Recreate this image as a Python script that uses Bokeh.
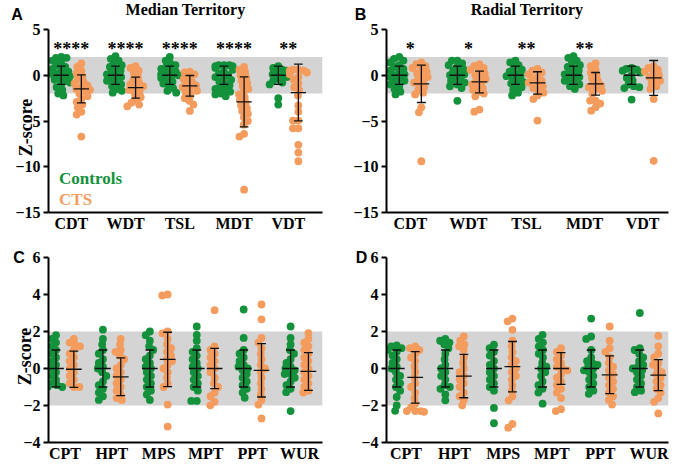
import math
from bokeh.plotting import figure
from bokeh.models import FixedTicker, BoxAnnotation, Label, Range1d
from bokeh.layouts import gridplot
from bokeh.embed import file_html
from bokeh.resources import INLINE
from bokeh.core.properties import value

# ---------------- data ----------------
median_cats = ["CDT", "WDT", "TSL", "MDT", "VDT"]
median_stars = ["****", "****", "****", "****", "**"]
median_controls = [
    [2.0, 1.9, 1.9, 1.6, 1.3, 1.1, 0.9, 0.7, 0.5, 0.4, 0.2, 0.1, 0.0, -0.1, -0.3, -0.5, -0.6, -0.8, -1.0, -1.3, -1.6, -2.0, -2.2],
    [2.1, 1.8, 1.6, 1.3, 1.1, 0.9, 0.7, 0.5, 0.3, 0.1, 0.0, -0.2, -0.4, -0.6, -0.8, -1.0, -1.2, -1.5, -1.7, -1.9],
    [2.0, 1.6, 1.3, 1.1, 0.9, 0.7, 0.5, 0.4, 0.2, 0.1, 0.0, -0.1, -0.3, -0.5, -0.7, -0.9, -1.1, -1.4, -1.7, -1.9],
    [1.1, 1.1, 1.1, 1.0, 1.0, 0.8, 0.6, 0.4, 0.2, 0.0, -0.2, -0.3, -0.5, -0.7, -0.9, -1.1, -1.3, -1.5, -1.6, -1.8, -2.0, -2.1, -2.3],
    [1.0, 0.8, 0.6, 0.5, 0.3, 0.1, 0.0, -0.2, -0.4, -0.6, -0.8, -1.0, -2.5, -3.2],
]
median_cts = [
    [1.3, 0.9, 0.5, 0.2, -0.1, -0.4, -0.7, -0.9, -1.1, -1.3, -1.5, -1.6, -1.8, -2.0, -2.3, -2.6, -2.9, -3.2, -3.5, -4.0, -4.3, -6.7],
    [1.0, 0.8, 0.5, 0.2, -0.2, -0.5, -0.8, -1.0, -1.2, -1.4, -1.6, -1.8, -2.1, -2.4, -2.7, -3.0, -3.2, -3.4],
    [0.4, 0.3, 0.1, -0.2, -0.4, -0.7, -0.9, -1.1, -1.3, -1.5, -1.7, -1.9, -2.2, -2.5, -2.8, -3.2, -3.9],
    [0.9, 0.6, 0.3, 0.0, -0.3, -0.6, -0.9, -1.2, -1.5, -1.8, -2.1, -2.4, -2.7, -3.0, -3.3, -3.6, -3.9, -4.2, -4.6, -5.0, -5.4, -6.4, -6.7, -12.5],
    [0.6, 0.6, 0.5, 0.5, 0.3, 0.1, -0.2, -0.5, -0.9, -1.3, -1.6, -2.2, -3.3, -4.0, -4.95, -4.95, -5.8, -5.8, -7.6, -8.45, -9.4],
]
median_ctrl_mean = [0.0, 0.0, 0.0, 0.0, 0.0]
median_ctrl_sd = [1.0, 1.0, 1.0, 1.0, 1.0]
median_cts_mean = [-1.49, -1.35, -1.16, -2.91, -1.89]
median_cts_sd = [1.53, 1.14, 1.13, 2.73, 3.1]

radial_cats = ["CDT", "WDT", "TSL", "MDT", "VDT"]
radial_stars = ["*", "*", "**", "**", ""]
radial_controls = [
    [2.0, 1.8, 1.6, 1.4, 1.1, 0.9, 0.7, 0.5, 0.3, 0.1, 0.0, -0.2, -0.4, -0.6, -0.8, -1.0, -1.2, -1.5, -1.8, -2.1],
    [1.6, 1.6, 1.3, 1.1, 0.9, 0.7, 0.5, 0.3, 0.1, 0.0, -0.2, -0.4, -0.6, -0.8, -1.0, -1.2, -1.4, -2.8],
    [1.6, 1.4, 1.1, 0.8, 0.6, 0.4, 0.2, 0.0, -0.1, -0.3, -0.5, -0.7, -0.9, -1.1, -1.3, -1.6, -1.9, -2.2],
    [2.1, 1.9, 1.6, 1.3, 1.1, 0.9, 0.7, 0.5, 0.3, 0.1, 0.0, -0.2, -0.4, -0.6, -0.8, -1.0, -1.2, -1.5],
    [0.8, 0.7, 0.6, 0.5, 0.3, 0.0, -0.3, -0.6, -1.0, -1.2, -1.3, -1.4, -2.66],
]
radial_cts = [
    [1.4, 1.2, 1.0, 0.8, 0.6, 0.4, 0.2, 0.0, -0.2, -0.4, -0.6, -0.8, -1.0, -1.3, -1.6, -1.9, -2.1, -3.5, -4.05, -9.4],
    [1.2, 1.0, 0.8, 0.6, 0.4, 0.2, 0.0, -0.2, -0.4, -0.6, -0.8, -1.0, -1.2, -1.4, -1.6, -1.8, -2.0, -2.3, -3.75, -3.98],
    [0.7, 0.5, 0.3, 0.1, -0.2, -0.4, -0.6, -0.8, -1.0, -1.2, -1.4, -1.6, -1.9, -2.2, -2.6, -4.95],
    [1.3, 1.0, 0.6, 0.3, 0.0, -0.3, -0.6, -0.9, -1.1, -1.3, -1.5, -1.7, -2.0, -2.77, -2.77, -3.1, -3.5, -3.87],
    [1.0, 0.8, 0.6, 0.4, 0.2, 0.0, -0.2, -0.4, -0.6, -0.9, -1.2, -1.5, -2.6, -9.35],
]
radial_ctrl_mean = [0.0, 0.0, 0.0, 0.0, 0.0]
radial_ctrl_sd = [1.0, 1.0, 1.0, 1.0, 1.0]
radial_cts_mean = [-0.94, -0.73, -0.84, -0.94, -0.29]
radial_cts_sd = [2.04, 1.19, 1.22, 1.24, 1.9]

median2_cats = ["CPT", "HPT", "MPS", "MPT", "PPT", "WUR"]
median2_controls = [
    [1.8, 1.6, 1.4, 1.2, 1.0, 0.8, 0.6, 0.4, 0.2, 0.0, -0.2, -0.4, -0.6, -0.8, -0.9, -1.0, -1.0],
    [2.1, 1.6, 1.3, 1.0, 0.8, 0.5, 0.3, 0.1, 0.0, -0.2, -0.4, -0.7, -0.9, -1.1, -1.3, -1.5, -1.7],
    [2.0, 1.8, 1.5, 1.2, 1.0, 0.7, 0.5, 0.3, 0.1, 0.0, -0.2, -0.4, -0.6, -0.8, -1.0, -1.2, -1.4, -1.7],
    [2.27, 1.82, 1.5, 1.1, 0.9, 0.7, 0.5, 0.3, 0.1, 0.0, -0.2, -0.4, -0.6, -0.8, -1.0, -1.2, -1.75, -1.75],
    [3.19, 1.65, 1.0, 0.8, 0.6, 0.4, 0.2, 0.1, 0.0, -0.1, -0.3, -0.5, -0.7, -0.9, -1.1, -1.3, -1.58],
    [2.27, 1.65, 1.3, 1.0, 0.8, 0.5, 0.3, 0.1, 0.0, -0.1, -0.3, -0.3, -0.5, -0.7, -0.9, -1.1, -1.28, -2.3],
]
median2_cts = [
    [1.6, 1.4, 1.3, 1.2, 1.0, 0.8, 0.6, 0.4, 0.2, 0.0, -0.2, -0.4, -0.6, -0.8, -1.0, -1.0],
    [1.6, 1.3, 1.0, 0.9, 0.7, 0.5, 0.2, 0.0, -0.2, -0.4, -0.6, -0.8, -1.0, -1.2, -1.4, -1.6, -1.7],
    [4.0, 3.95, 2.0, 1.9, 1.6, 1.3, 1.1, 0.9, 0.7, 0.5, 0.4, 0.2, 0.0, -0.2, -0.5, -0.8, -1.0, -1.95, -3.14],
    [3.15, 1.2, 1.0, 0.8, 0.6, 0.4, 0.2, 0.0, -0.2, -0.5, -0.8, -1.0, -1.3, -1.5, -1.8, -1.99],
    [3.46, 2.66, 1.65, 1.4, 1.1, 0.8, 0.5, 0.2, 0.0, -0.2, -0.5, -0.8, -1.1, -1.4, -1.7, -1.95, -2.7],
    [1.91, 1.6, 1.4, 1.2, 1.0, 0.8, 0.6, 0.4, 0.2, 0.0, -0.2, -0.4, -0.6, -0.8, -1.0, -1.2, -1.3],
]
median2_ctrl_mean = [0.0, 0.0, 0.0, 0.0, 0.0, 0.0]
median2_ctrl_sd = [1.0, 1.0, 1.0, 1.0, 1.0, 1.0]
median2_cts_mean = [-0.04, -0.45, 0.49, 0.0, -0.1, -0.16]
median2_cts_sd = [0.98, 1.02, 1.47, 1.09, 1.44, 1.02]

radial2_cats = ["CPT", "HPT", "MPS", "MPT", "PPT", "WUR"]
radial2_controls = [
    [1.25, 1.2, 1.1, 1.0, 0.9, 0.7, 0.5, 0.3, 0.1, 0.0, -0.2, -0.4, -0.6, -0.8, -1.0, -1.2, -1.54, -2.0, -2.29],
    [1.6, 1.5, 1.4, 1.3, 1.1, 0.8, 0.5, 0.2, 0.0, -0.2, -0.4, -0.6, -0.9, -1.0, -1.1, -1.4, -1.72],
    [1.29, 1.1, 0.9, 0.7, 0.4, 0.2, 0.0, -0.2, -0.4, -0.6, -0.8, -1.0, -1.2, -2.13, -2.96],
    [1.82, 1.6, 1.4, 1.2, 1.0, 0.8, 0.6, 0.3, 0.1, 0.0, -0.2, -0.4, -0.7, -0.9, -1.1, -1.3, -1.9],
    [2.7, 1.73, 1.6, 1.0, 0.6, 0.4, 0.3, 0.2, 0.1, 0.0, -0.1, -0.2, -0.4, -0.6, -0.8, -1.0, -1.2, -1.37],
    [3.0, 1.1, 1.0, 0.8, 0.6, 0.4, 0.2, 0.1, 0.0, -0.1, -0.2, -0.4, -0.6, -0.8, -1.0, -1.2, -1.28],
]
radial2_cts = [
    [1.2, 1.1, 1.0, 0.8, 0.6, 0.4, 0.1, -0.2, -0.5, -0.8, -1.0, -1.3, -1.6, -1.9, -2.1, -2.3, -2.3, -2.3, -2.34],
    [1.73, 1.5, 1.3, 1.2, 1.0, 0.6, 0.3, 0.0, -0.2, -0.4, -0.6, -0.8, -1.0, -1.3, -1.5, -1.7, -1.99],
    [2.7, 2.55, 2.09, 1.5, 1.2, 0.9, 0.6, 0.4, 0.2, 0.0, -0.2, -0.4, -0.6, -0.9, -1.2, -1.5, -1.72, -3.0, -3.2],
    [1.1, 0.9, 0.7, 0.5, 0.3, 0.1, 0.0, -0.1, -0.3, -0.5, -0.7, -0.9, -1.1, -1.3, -1.6, -2.2, -2.3],
    [2.27, 1.5, 1.1, 0.9, 0.6, 0.3, 0.1, -0.1, -0.3, -0.5, -0.7, -0.9, -1.1, -1.3, -1.5, -1.7, -1.95],
    [1.76, 1.2, 0.8, 0.6, 0.3, 0.2, 0.0, -0.2, -0.3, -0.5, -0.7, -0.9, -1.1, -1.3, -1.6, -1.8, -2.43],
]
radial2_ctrl_mean = [0.0, 0.0, 0.0, 0.0, 0.0, 0.0]
radial2_ctrl_sd = [1.0, 1.0, 1.0, 1.0, 1.0, 1.0]
radial2_cts_mean = [-0.48, -0.41, 0.1, 0.0, -0.34, -0.36]
radial2_cts_sd = [1.39, 1.17, 1.36, 0.86, 1.02, 0.84]

ticks_top = [5, 0, -5, -10, -15]
ticks_bottom = [6, 4, 2, 0, -2, -4]

# ---------------- styling ----------------
GREEN = "#13913b"
ORANGE = "#f39c5e"
BAND = "#d4d4d4"
SERIF = "Liberation Serif"
SANS = "Liberation Sans"
DOT = 7.8


def swarm(vals, ypx, dmin, maxoff):
    placed = []
    out = [0.0] * len(vals)
    order = sorted(range(len(vals)), key=lambda i: -vals[i])
    for i in order:
        y = vals[i] * ypx
        cands = [0.0]
        for (px, py) in placed:
            dy = abs(py - y)
            if dy < dmin:
                dx = math.sqrt(dmin * dmin - dy * dy)
                cands += [px - dx, px + dx]
        cands.sort(key=lambda c: (abs(c), c))
        chosen = cands[-1]
        for c in cands:
            if all((c - px) ** 2 + (y - py) ** 2 >= dmin * dmin - 1e-6 for px, py in placed):
                chosen = c
                break
        chosen = max(-maxoff, min(maxoff, chosen))
        placed.append((chosen, y))
        out[i] = chosen
    return out


def make_panel(cats, ctrl, cts, cm, cs, tm, ts, stars, yr, yticks, xr, width, height,
               borders, off, texts, legend=False, star_y=None):
    left, right, top, bottom = borders
    p = figure(width=width, height=height, x_range=Range1d(*xr), y_range=Range1d(*yr),
               output_backend="svg", toolbar_location=None,
               min_border_left=left, min_border_right=right,
               min_border_top=top, min_border_bottom=bottom)
    fw = width - left - right
    fh = height - top - bottom
    xppu = fw / (xr[1] - xr[0])
    yppu = fh / (yr[1] - yr[0])

    p.add_layout(BoxAnnotation(bottom=-2, top=2, fill_color=BAND, fill_alpha=1.0,
                               line_color=None, level="underlay"))

    for groups, color, sign in ((ctrl, GREEN, -1), (cts, ORANGE, 1)):
        xs, ys = [], []
        for i, vals in enumerate(groups):
            offs = swarm(vals, yppu, 5.6, 9.0)
            for v, o in zip(vals, offs):
                xs.append(i + sign * off + o / xppu)
                ys.append(v)
        p.scatter(x=xs, y=ys, size=DOT, fill_color=color, line_color=None, marker="circle")

    x0, y0, x1, y1 = [], [], [], []
    for means, sds, sign in ((cm, cs, -1), (tm, ts, 1)):
        for i, (m, s) in enumerate(zip(means, sds)):
            cx = i + sign * off
            x0.append(cx); y0.append(m - s); x1.append(cx); y1.append(m + s)
            hw = 4.5 / xppu
            for yy in (m - s, m + s):
                x0.append(cx - hw); x1.append(cx + hw); y0.append(yy); y1.append(yy)
            hm = 8.0 / xppu
            x0.append(cx - hm); x1.append(cx + hm); y0.append(m); y1.append(m)
    p.segment(x0=x0, y0=y0, x1=x1, y1=y1, line_color="#111111", line_width=1.3)

    if stars is not None:
        p.text(x=list(range(len(cats))), y=[star_y] * len(cats), text=stars,
               text_font=value(SERIF), text_font_style="bold", text_font_size="18px",
               text_align="center", text_baseline="middle", text_color="black")

    # axes
    p.xgrid.visible = False
    p.ygrid.visible = False
    p.outline_line_color = None
    xa = p.xaxis[0]
    xa.ticker = FixedTicker(ticks=list(range(len(cats))))
    xa.major_label_overrides = {i: c for i, c in enumerate(cats)}
    xa.major_tick_line_color = None
    xa.minor_tick_line_color = None
    xa.major_tick_out = 0
    xa.major_tick_in = 0
    xa.major_label_standoff = 2
    ya = p.yaxis[0]
    ya.ticker = FixedTicker(ticks=yticks)
    ya.minor_tick_line_color = None
    ya.major_tick_out = 5
    ya.major_tick_in = 0
    ya.major_tick_line_width = 2
    ya.major_label_standoff = 3
    for ax in (xa, ya):
        ax.axis_line_width = 2
        ax.axis_line_color = "black"
        ax.major_label_text_font = SERIF
        ax.major_label_text_font_style = "bold"
        ax.major_label_text_font_size = "16px"
        ax.major_label_text_color = "black"

    # texts outside the frame: (text, side panel, dx px from frame left, dy px above frame top,
    #                            font, size, align, baseline, angle)
    for (txt, side, dx, dy, font, size, align, base, ang) in texts:
        p.add_layout(Label(x=xr[0] + dx / xppu, y=yr[1] + dy / yppu, text=txt, angle=ang,
                           text_font=font, text_font_style="bold", text_font_size=size,
                           text_align=align, text_baseline=base, text_color="black"),
                     side)

    if legend:
        p.add_layout(Label(x=xr[0] + 11 / xppu, y=-11.3, text="Controls", text_font=SERIF,
                           text_font_style="bold", text_font_size="17px", text_color=GREEN,
                           text_align="left", text_baseline="middle"))
        p.add_layout(Label(x=xr[0] + 11 / xppu, y=-13.6, text="CTS", text_font=SERIF,
                           text_font_style="bold", text_font_size="17px", text_color=ORANGE,
                           text_align="left", text_baseline="middle"))
    return p


# figure A: frame x 42-328, y 29-212
pA = make_panel(median_cats, median_controls, median_cts, median_ctrl_mean, median_ctrl_sd,
                median_cts_mean, median_cts_sd, median_stars, (-15, 5), ticks_top,
                (-0.42, 4.63), 350, 236, (42, 22, 29, 24), 0.185,
                [("Median Territory", "above", 143, 20, SERIF, "16px", "center", "middle", 0),
                 ("A", "left", -39, 15, SANS, "16px", "left", "middle", 0),
                 ("Z-score", "right", -23, -98, SERIF, "18px", "center", "alphabetic", math.pi / 2)],
                legend=True, star_y=2.85)
# figure B: frame x 383-668, y 29-212
pB = make_panel(radial_cats, radial_controls, radial_cts, radial_ctrl_mean, radial_ctrl_sd,
                radial_cts_mean, radial_cts_sd, radial_stars, (-15, 5), ticks_top,
                (-0.41, 4.445), 330, 236, (33, 12, 29, 24), 0.19,
                [("Radial Territory", "above", 142, 20, SERIF, "16px", "center", "middle", 0),
                 ("B", "right", -32, 15, SANS, "16px", "left", "middle", 0)],
                star_y=2.85)
# figure C: frame x 43-322, y 257-442
pC = make_panel(median2_cats, median2_controls, median2_cts, median2_ctrl_mean, median2_ctrl_sd,
                median2_cts_mean, median2_cts_sd, None, (-4, 6), ticks_bottom,
                (-0.35, 5.49), 350, 228, (43, 28, 21, 22), 0.19,
                [("C", "above", -36, 0, SANS, "16px", "left", "middle", 0),
                 ("Z-score", "right", -24, -99, SERIF, "18px", "center", "alphabetic", math.pi / 2)])
# figure D: frame x 383-668, y 257-442
pD = make_panel(radial2_cats, radial2_controls, radial2_cts, radial2_ctrl_mean, radial2_ctrl_sd,
                radial2_cts_mean, radial2_cts_sd, None, (-4, 6), ticks_bottom,
                (-0.40, 5.40), 330, 228, (33, 12, 21, 22), 0.19,
                [("D", "above", -31, 0, SANS, "16px", "left", "middle", 0)])

grid = gridplot([[pA, pB], [pC, pD]], toolbar_location=None)
open("out.html", "w").write(file_html(grid, INLINE))
